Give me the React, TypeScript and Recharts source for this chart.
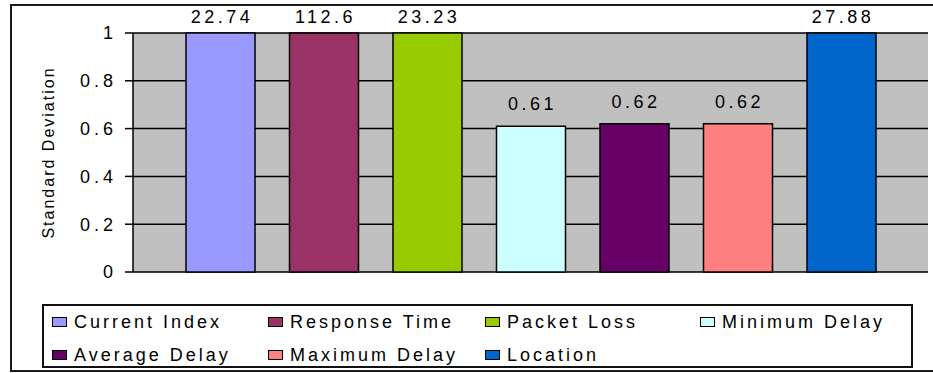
import React from "react";
import { BarChart, Bar, XAxis, YAxis, CartesianGrid, LabelList, Label } from "recharts";

const SERIES = [
    "Current Index",
    "Response Time",
    "Packet Loss",
    "Minimum Delay",
    "Average Delay",
    "Maximum Delay",
    "Location",
];
const VALUES = [22.74, 112.6, 23.23, 0.61, 0.62, 0.62, 27.88];
const COLORS = ["#9999ff", "#993366", "#99cc00", "#ccffff", "#660066", "#ff8080", "#0066cc"];
const Y_TICKS = [0, 0.2, 0.4, 0.6, 0.8, 1];
const AXIS_MAX = 1;

// legend grid: 4 columns, items fill row by row
const LEGEND_COLS = [8, 224, 441, 656];
const LEGEND_ROWS = [16, 49];

const FONT = "'Liberation Sans', Arial, sans-serif";

const data = [
    SERIES.reduce((row: Record<string, any>, s, i) => {
        row[s] = VALUES[i];
        return row;
    }, { name: "" }),
];

function makeLabel(i: number) {
    return (props: any) => {
        const { x, y, width } = props;
        const v = VALUES[i];
        const dy = v > AXIS_MAX ? 10 : 16;
        return (
            <text
                x={Number(x) + Number(width) / 2 + 1.5}
                y={Number(y) - dy}
                textAnchor="middle"
                fontSize={18}
                letterSpacing={3.5}
                fontFamily={FONT}
                fill="#000"
            >
                {String(v)}
            </text>
        );
    };
}

function ChartLegend() {
    return (
        <div
            style={{
                position: "absolute",
                left: 42,
                top: 304,
                width: 871,
                height: 64,
                border: "2px solid #111",
                boxSizing: "border-box",
                background: "#fff",
            }}
        >
            {SERIES.map((s, i) => (
                <div
                    key={s}
                    style={{
                        position: "absolute",
                        left: LEGEND_COLS[i % 4],
                        top: LEGEND_ROWS[Math.floor(i / 4)] - 10,
                        height: 20,
                        display: "flex",
                        alignItems: "center",
                        whiteSpace: "nowrap",
                    }}
                >
                    <span
                        style={{
                            display: "inline-block",
                            width: 15,
                            height: 10,
                            background: COLORS[i],
                            border: "1px solid #000",
                            boxSizing: "border-box",
                            marginRight: 7,
                        }}
                    />
                    <span style={{ fontFamily: FONT, fontSize: 18, letterSpacing: 3, color: "#000" }}>{s}</span>
                </div>
            ))}
        </div>
    );
}

export default function App() {
    return (
        <div style={{ position: "absolute", left: 0, top: 0, width: 933, height: 373, background: "#fff" }}>
            <div
                style={{
                    position: "absolute",
                    left: 10,
                    top: 4,
                    width: 930,
                    height: 368,
                    border: "2px solid #1a1a1a",
                    boxSizing: "border-box",
                }}
            />
            <div style={{ position: "absolute", left: 0, top: 0 }}>
                <BarChart
                    width={933}
                    height={373}
                    data={data}
                    margin={{ top: 33, right: 5, bottom: 101, left: 33 }}
                    barGap={34.5}
                >
                    <CartesianGrid vertical={false} stroke="#000" strokeWidth={1.5} fill="#c0c0c0" />
                    <XAxis dataKey="name" tick={false} tickLine={false} axisLine={{ stroke: "#808080", strokeWidth: 1.5 }} height={0} />
                    <YAxis
                        domain={[0, AXIS_MAX]}
                        ticks={Y_TICKS}
                        width={100}
                        tickSize={8}
                        tickMargin={8}
                        tickLine={{ stroke: "#000", strokeWidth: 1.5 }}
                        axisLine={{ stroke: "#000", strokeWidth: 1.5 }}
                        tick={{ fill: "#000", fontSize: 18, letterSpacing: 4, fontFamily: FONT }}
                        tickFormatter={(v) => String(v)}
                    >
                        <Label
                            value="Standard Deviation"
                            angle={-90}
                            position="insideLeft"
                            offset={15}
                            fill="#000"
                            fontSize={16}
                            letterSpacing={2}
                            fontFamily={FONT}
                            style={{ textAnchor: "middle" }}
                        />
                    </YAxis>
                    {SERIES.map((s, i) => (
                        <Bar
                            key={s}
                            name={s}
                            dataKey={(row: any) => Math.min(row[s], AXIS_MAX)}
                            fill={COLORS[i]}
                            stroke="#000"
                            strokeWidth={1.5}
                            barSize={69}
                            isAnimationActive={false}
                        >
                            <LabelList content={makeLabel(i)} />
                        </Bar>
                    ))}
                </BarChart>
            </div>
            <ChartLegend />
        </div>
    );
}
